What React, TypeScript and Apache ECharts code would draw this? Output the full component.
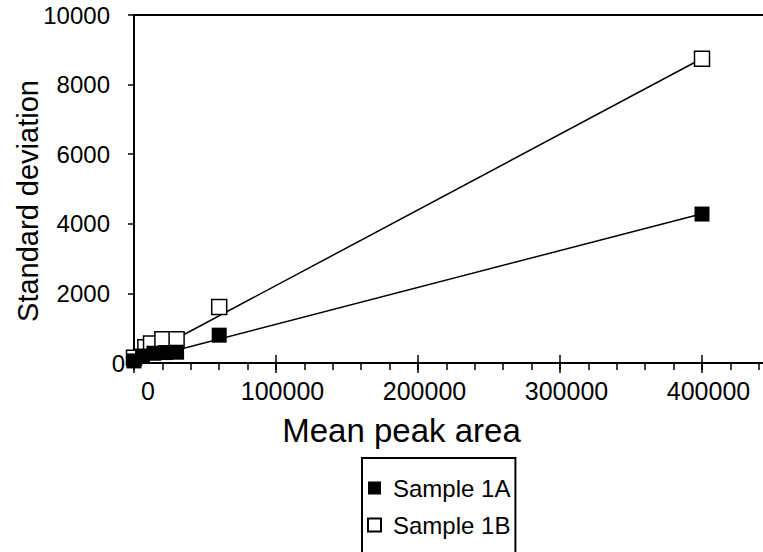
import React, { useEffect, useRef } from "react";
import * as echarts from "echarts";

const FONT = "'Liberation Sans', Arial, Helvetica, sans-serif";
const INK = "#000000";

// Mean peak area (x) and standard deviation (y)
const sample1AX = [0, 6000, 14000, 22000, 30000, 60000, 400000];
const sample1AY = [60, 200, 280, 300, 310, 800, 4280];
const sample1BX = [0, 8000, 12000, 20000, 30000, 60000, 400000];
const sample1BY = [150, 450, 560, 680, 680, 1610, 8740];

// Linear trend lines (slope, intercept)
const trend1A = { slope: 0.0106, intercept: 51 };
const trend1B = { slope: 0.02175, intercept: 51 };
const trendRange = [0, 400000];

const legendNames = ["Sample 1A", "Sample 1B"];

export default function App() {
  const ref = useRef<HTMLDivElement>(null);

  useEffect(() => {
    if (!ref.current) return;
    const chart = echarts.init(ref.current, null, { renderer: "svg" });
    const s1A = sample1AX.map((x, i) => [x, sample1AY[i]]);
    const s1B = sample1BX.map((x, i) => [x, sample1BY[i]]);
    const line = (t: { slope: number; intercept: number }) =>
      trendRange.map((x) => [x, t.intercept + t.slope * x]);

    const xLabelRich = {
      z: { padding: [0, 0, 0, 28], fontSize: 25, fontFamily: FONT, color: INK },
      n: { padding: [0, 0, 0, 13], fontSize: 25, fontFamily: FONT, color: INK },
    };
    const yLabelRich = {
      z: { padding: [0, 0, 0, 0], fontSize: 24, fontFamily: FONT, color: INK },
      n: { padding: [0, 15, 0, 0], fontSize: 24, fontFamily: FONT, color: INK },
    };

    chart.setOption({
      animation: false,
      textStyle: { fontFamily: FONT, color: INK },
      grid: {
        left: 134,
        top: 15,
        right: -10,
        bottom: 189,
        outerBoundsMode: "none",
        containLabel: false,
        show: true,
        borderColor: INK,
        borderWidth: 2,
        backgroundColor: "transparent",
      },
      xAxis: [
        {
          type: "value",
          min: 0,
          max: 450000,
          interval: 100000,
          position: "bottom",
          axisLine: { show: true, onZero: false, lineStyle: { color: INK, width: 2 } },
          axisTick: { show: true, length: 10, lineStyle: { color: INK, width: 1.5 } },
          axisLabel: {
            showMaxLabel: false,
            margin: 15,
            fontSize: 25,
            color: INK,
            formatter: (v: number) => (v === 0 ? "{z|0}" : `{n|${v}}`),
            rich: xLabelRich,
          },
          splitLine: { show: false },
          name: "Mean peak area",
          nameLocation: "middle",
          nameGap: 51,
          nameMoveOverlap: false,
          nameTextStyle: { fontSize: 33, color: INK, fontFamily: FONT, padding: [0, 104, 0, 0] },
        },
        {
          type: "value",
          min: 0,
          max: 450000,
          interval: 100000,
          position: "bottom",
          axisLine: { show: false },
          axisTick: { show: true, inside: true, length: 8, lineStyle: { color: INK, width: 1.5 } },
          axisLabel: { show: false },
          splitLine: { show: false },
        },
        {
          type: "value",
          min: 0,
          max: 450000,
          interval: 20000,
          position: "bottom",
          axisLine: { show: false },
          axisTick: { show: true, length: 7, lineStyle: { color: INK, width: 1.5 } },
          axisLabel: { show: false },
          splitLine: { show: false },
        },
      ],
      yAxis: {
        type: "value",
        min: 0,
        max: 10000,
        interval: 2000,
        axisLine: { show: true, onZero: false, lineStyle: { color: INK, width: 2 } },
        axisTick: { show: true, length: 6, lineStyle: { color: INK, width: 1.5 } },
        axisLabel: {
          margin: 9,
          fontSize: 24,
          color: INK,
          formatter: (v: number) => (v === 0 ? "{z|0}" : `{n|${v}}`),
          rich: yLabelRich,
        },
        splitLine: { show: false },
        name: "Standard deviation",
        nameLocation: "middle",
        nameGap: 92,
        nameMoveOverlap: false,
        nameTextStyle: { fontSize: 29, color: INK, fontFamily: FONT, padding: [0, 24, 0, 0] },
      },
      legend: {
        orient: "vertical",
        left: 362,
        top: 458,
        height: 120,
        data: legendNames,
        icon: "rect",
        itemWidth: 13,
        itemHeight: 13,
        itemGap: 13,
        borderColor: INK,
        borderWidth: 2,
        padding: [18, 5, 30, 5],
        textStyle: { fontSize: 24, color: INK, fontFamily: FONT, padding: [0, 0, 0, 7] },
      },
      series: [
        {
          name: "Trend 1B",
          type: "line",
          data: line(trend1B),
          showSymbol: false,
          symbol: "none",
          lineStyle: { color: INK, width: 1.5 },
          z: 2,
          silent: true,
        },
        {
          name: "Trend 1A",
          type: "line",
          data: line(trend1A),
          showSymbol: false,
          symbol: "none",
          lineStyle: { color: INK, width: 1.5 },
          z: 2,
          silent: true,
        },
        {
          name: legendNames[1],
          type: "scatter",
          data: s1B,
          symbol: "rect",
          symbolSize: 15,
          itemStyle: { color: "#ffffff", borderColor: INK, borderWidth: 1.5, opacity: 1 },
          z: 3,
        },
        {
          name: legendNames[0],
          type: "scatter",
          data: s1A,
          symbol: "rect",
          symbolSize: 15,
          itemStyle: { color: INK, opacity: 1 },
          z: 4,
        },
      ],
    });
    return () => chart.dispose();
  }, []);

  return (
    <div
      ref={ref}
      style={{ position: "absolute", left: 0, top: 0, width: 763, height: 552, background: "#fff" }}
    />
  );
}
